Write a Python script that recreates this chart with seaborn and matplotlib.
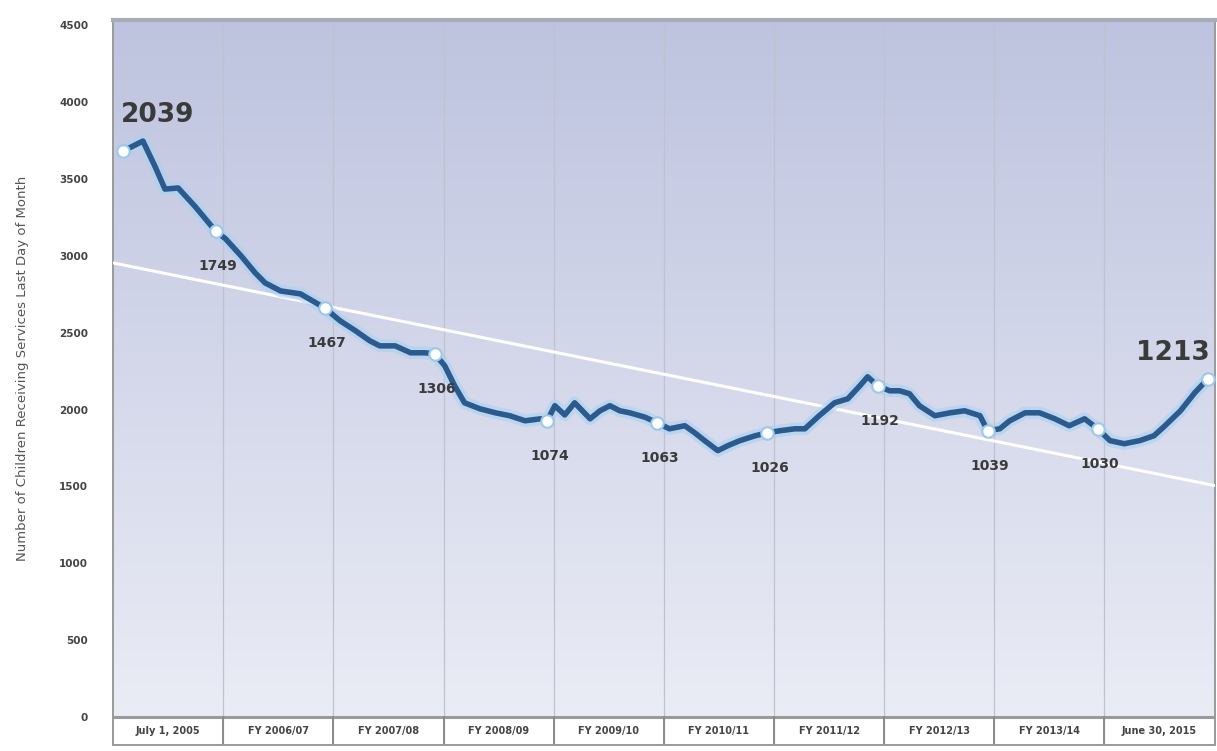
import numpy as np
import pandas as pd
import matplotlib
matplotlib.use("Agg")
import matplotlib.pyplot as plt
import seaborn as sns

# ---- data (x in fiscal-year columns from July 1, 2005; y in axis units) ----
x_vals = [0.09, 0.27, 0.38, 0.47, 0.59, 0.74, 0.93, 1.02, 1.16, 1.29, 1.38, 1.52,
          1.70, 1.92, 2.06, 2.20, 2.33, 2.42, 2.56, 2.70, 2.83, 2.92, 3.01, 3.10,
          3.19, 3.33, 3.47, 3.60, 3.74, 3.88, 3.94, 4.01, 4.10, 4.19, 4.33, 4.42,
          4.51, 4.60, 4.69, 4.83, 4.94, 5.05, 5.19, 5.28, 5.37, 5.49, 5.58, 5.69,
          5.83, 5.94, 6.05, 6.19, 6.28, 6.41, 6.55, 6.67, 6.78, 6.85, 6.94, 7.05,
          7.14, 7.23, 7.32, 7.46, 7.60, 7.73, 7.87, 7.94, 8.05, 8.14, 8.28, 8.41,
          8.55, 8.68, 8.82, 8.94, 9.05, 9.18, 9.32, 9.45, 9.55, 9.69, 9.82, 9.94]
y_vals = [3680, 3745, 3580, 3433, 3440, 3323, 3160, 3110, 3000, 2888, 2823, 2771,
          2752, 2661, 2577, 2512, 2447, 2414, 2414, 2369, 2369, 2362, 2285, 2155,
          2044, 2005, 1979, 1960, 1927, 1940, 1927, 2025, 1965, 2044, 1940, 1992,
          2025, 1992, 1979, 1950, 1914, 1875, 1895, 1849, 1798, 1733, 1765, 1798,
          1830, 1849, 1862, 1875, 1875, 1960, 2044, 2070, 2155, 2213, 2155, 2122,
          2122, 2103, 2025, 1960, 1979, 1992, 1960, 1862, 1875, 1927, 1979, 1979,
          1940, 1895, 1940, 1875, 1798, 1778, 1798, 1830, 1895, 1992, 2109, 2200]

marker_x = [0.09, 0.93, 1.92, 2.92, 3.94, 4.94, 5.94, 6.94, 7.94, 8.94, 9.94]
marker_y = [3680, 3160, 2661, 2362, 1927, 1914, 1849, 2155, 1862, 1875, 2200]
marker_labels = ["2039", "1749", "1467", "1306", "1074", "1063", "1026",
                 "1192", "1039", "1030", "1213"]

trend_x = [0.0, 10.0]
trend_y = [2953, 1506]

col_labels = ["July 1, 2005", "FY 2006/07", "FY 2007/08", "FY 2008/09",
              "FY 2009/10", "FY 2010/11", "FY 2011/12", "FY 2012/13",
              "FY 2013/14", "June 30, 2015"]
y_ticks = [0, 500, 1000, 1500, 2000, 2500, 3000, 3500, 4000, 4500]
y_title = "Number of Children Receiving Services Last Day of Month"

df = pd.DataFrame({"x": x_vals, "y": y_vals})
mk = pd.DataFrame({"x": marker_x, "y": marker_y, "label": marker_labels})
tr = pd.DataFrame({"x": trend_x, "y": trend_y})

sns.set_theme(style="white")
plt.rcParams["font.family"] = ["DejaVu Sans"]

fig = plt.figure(figsize=(12.17, 7.51), dpi=100)
ax = fig.add_axes([0.093, 0.008, 0.905, 0.965])

YMIN, YMAX = -180, 4530
ax.set_xlim(0, 10)
ax.set_ylim(YMIN, YMAX)

# gradient background
top = np.array([0.745, 0.765, 0.875])
bot = np.array([0.925, 0.932, 0.965])
t = np.linspace(0, 1, 256)[:, None]
grad = (top * (1 - t) + bot * t)[:, None, :]
grad = np.repeat(grad, 2, axis=1)
ax.imshow(grad, extent=[0, 10, YMIN, YMAX], aspect="auto", zorder=0,
          interpolation="bicubic", origin="upper")

# label band below zero
ax.axhspan(YMIN, 0, color="white", zorder=1)
ax.axhline(0, color="#9a9a9a", lw=2.2, zorder=2)

for v in range(1, 10):
    ax.axvline(v, color="#bfc2cf", lw=0.9, zorder=1)
    ax.plot([v, v], [YMIN, 0], color="#8a8a8a", lw=1.4, zorder=2)

for i, lab in enumerate(col_labels):
    ax.text(i + 0.5, YMIN / 2, lab, ha="center", va="center",
            fontsize=7, color="#444444", fontweight="bold", zorder=3)

# trend line
sns.lineplot(data=tr, x="x", y="y", ax=ax, color="white", lw=2.2, zorder=3)

# series: glow + main line
sns.lineplot(data=df, x="x", y="y", ax=ax, color="#a9d2f2", lw=9, alpha=0.6,
             zorder=4, sort=False, solid_joinstyle="round")
sns.lineplot(data=df, x="x", y="y", ax=ax, color="#2b5b8e", lw=4.0,
             zorder=5, sort=False, solid_joinstyle="round")
sns.scatterplot(data=mk, x="x", y="y", ax=ax, s=80, color="white",
                edgecolor="#9cc8ea", linewidth=1.5, zorder=6)

# annotations
for i, row in mk.iterrows():
    if i == 0:
        ax.text(row.x - 0.02, row.y + 150, row.label, ha="left", va="bottom",
                fontsize=19, fontweight="bold", color="#3a3a3a", zorder=7)
    elif i == len(mk) - 1:
        ax.text(row.x + 0.02, row.y + 80, row.label, ha="right", va="bottom",
                fontsize=19, fontweight="bold", color="#3a3a3a", zorder=7)
    else:
        ax.text(row.x + 0.02, row.y - 230, row.label, ha="center", va="center",
                fontsize=10, fontweight="bold", color="#3a3a3a", zorder=7)

ax.set_yticks(y_ticks)
ax.set_yticklabels([str(v) for v in y_ticks], fontsize=7.5, color="#444444",
                   fontweight="bold")
ax.set_xticks([])
ax.tick_params(axis="y", length=0, pad=18)
ax.set_xlabel("")
ax.set_ylabel(y_title, fontsize=9.5, color="#555555")
ax.yaxis.set_label_coords(-0.076, 0.52)

for side, sp in ax.spines.items():
    sp.set_color("#9a9a9a")
    sp.set_linewidth(1.4)
ax.spines["top"].set_linewidth(3)
ax.spines["top"].set_color("#a8acb8")

fig.savefig("out.png", dpi=100)
